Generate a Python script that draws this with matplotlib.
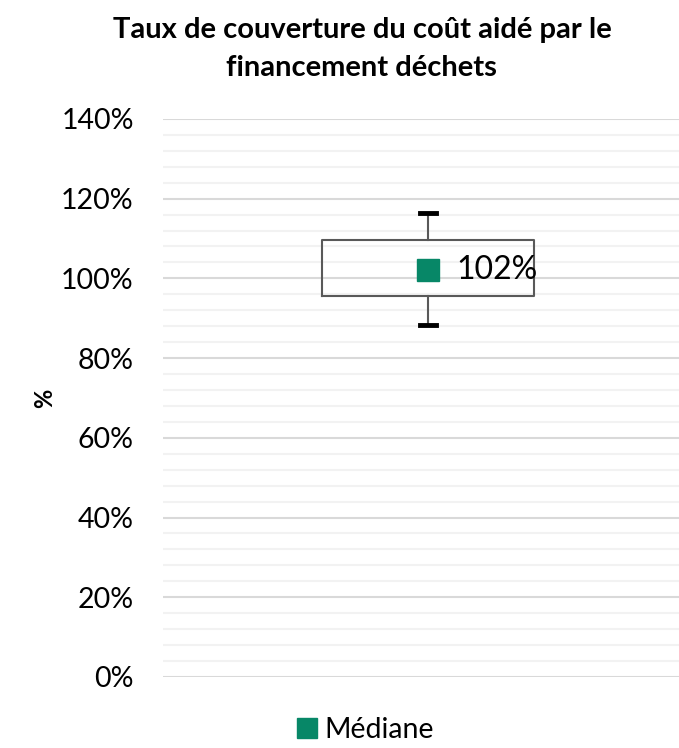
import matplotlib.pyplot as plt
from matplotlib.lines import Line2D
from matplotlib.ticker import MultipleLocator, FuncFormatter

plt.rcParams['font.family'] = ['Lato', 'DejaVu Sans']

# valeurs (%)
mini = 88.2
q1 = 95.7
mediane = 102
q3 = 109.6
maxi = 116.5
label_mediane = '102%'

couleur = '#078767'

fig = plt.figure(figsize=(6.79, 7.48), dpi=100)
ax = fig.add_axes([0.240, 0.095, 0.76, 0.746])

stats = [dict(med=mediane, q1=q1, q3=q3, whislo=mini, whishi=maxi, fliers=[])]
ax.bxp(stats, positions=[1], widths=0.411, showfliers=False,
       boxprops=dict(color='#595959', linewidth=1.5),
       whiskerprops=dict(color='#595959', linewidth=1.5),
       capprops=dict(color='black', linewidth=3.5),
       medianprops=dict(linewidth=0),
       capwidths=0.03, zorder=3)

ax.plot([1], [mediane], marker='s', markersize=16, color=couleur, linestyle='none', zorder=4)
ax.annotate(label_mediane, (1, mediane), xytext=(20, 0), textcoords='offset points',
            va='center', ha='left', fontsize=23, zorder=5)

ax.set_xlim(0.486, 1.486)
ax.set_ylim(0, 140)
ax.yaxis.set_major_locator(MultipleLocator(20))
ax.yaxis.set_minor_locator(MultipleLocator(4))
ax.yaxis.set_major_formatter(FuncFormatter(lambda v, p: f'{v:.0f}%'))
ax.grid(True, which='major', axis='y', color='#d9d9d9', linewidth=1.5, zorder=0)
ax.grid(True, which='minor', axis='y', color='#f2f2f2', linewidth=1.5, zorder=0)
ax.set_axisbelow(True)
ax.tick_params(axis='y', which='both', length=0, labelsize=20.5, pad=21)
ax.set_xticks([])
for s in ax.spines.values():
    s.set_visible(False)

ax.set_ylabel('%', fontsize=17, fontweight='bold')
ax.yaxis.set_label_coords(-0.207, 0.5)

fig.suptitle('Taux de couverture du coût aidé par le\nfinancement déchets',
             x=0.533, y=0.977, fontsize=21, fontweight='bold', linespacing=1.55)

handle = Line2D([], [], marker='s', color=couleur, linestyle='none', markersize=15)
fig.legend([handle], ['Médiane'], loc='lower center', bbox_to_anchor=(0.535, -0.028),
           frameon=False, fontsize=20.5, handletextpad=0.1, handlelength=1.0)

fig.savefig('out.png', dpi=100)
